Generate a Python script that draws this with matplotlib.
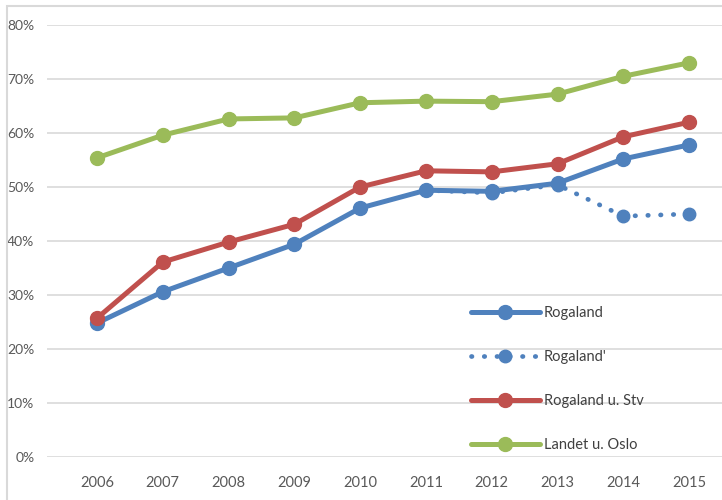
import matplotlib.pyplot as plt
from matplotlib.patches import Rectangle
from matplotlib.ticker import PercentFormatter
import numpy as np

plt.rcParams['font.family'] = ['Lato', 'DejaVu Sans']

years = ["2006", "2007", "2008", "2009", "2010", "2011", "2012", "2013", "2014", "2015"]
rogaland = [0.248, 0.306, 0.350, 0.394, 0.461, 0.494, 0.492, 0.507, 0.552, 0.578]
rogaland_alt = [None, None, None, None, None, 0.494, 0.489, 0.504, 0.446, 0.450]
rogaland_u_stv = [0.257, 0.361, 0.398, 0.431, 0.500, 0.530, 0.528, 0.543, 0.593, 0.620]
landet_u_oslo = [0.554, 0.596, 0.626, 0.628, 0.656, 0.659, 0.658, 0.672, 0.705, 0.730]

blue = "#4F81BD"
red = "#C0504D"
green = "#9BBB59"

fig = plt.figure(figsize=(7.22, 5.0), dpi=100)
ax = fig.add_axes([47 / 722, 43 / 500, 675 / 722, 432 / 500])

x = np.arange(len(years))
alt = np.array([np.nan if v is None else v for v in rogaland_alt])

ax.plot(x, rogaland, color=blue, lw=3.6, marker="o", ms=10, label="Rogaland",
        solid_capstyle="round")
ax.plot(x, alt, color=blue, lw=3.4, ls=(0, (0.1, 2.6)), dash_capstyle="round",
        marker="o", ms=9, label="Rogaland'")
ax.plot(x, rogaland_u_stv, color=red, lw=3.6, marker="o", ms=10,
        label="Rogaland u. Stv", solid_capstyle="round")
ax.plot(x, landet_u_oslo, color=green, lw=3.6, marker="o", ms=10,
        label="Landet u. Oslo", solid_capstyle="round")

ax.set_xlim(-0.76, 9.5)
ax.set_ylim(0, 0.8)
ax.set_yticks(np.arange(0, 0.81, 0.1))
ax.yaxis.set_major_formatter(PercentFormatter(1.0, decimals=0))
ax.set_xticks(x)
ax.set_xticklabels(years)
ax.grid(axis="y", color="#D9D9D9", lw=1.2)
ax.set_axisbelow(True)
for s in ax.spines.values():
    s.set_visible(False)
ax.tick_params(axis="both", length=0, labelsize=10.5, colors="#595959")
ax.tick_params(axis="x", pad=14)
ax.tick_params(axis="y", pad=9, labelsize=10)

ax.legend(loc="upper left", bbox_to_anchor=(458 / 722, 1 - 293 / 500),
          bbox_transform=fig.transFigure, frameon=False, fontsize=10.5,
          handlelength=4.7, labelspacing=2.05, handletextpad=0.3,
          labelcolor="#404040")

fig.patches.append(Rectangle((7 / 722, -0.1), 1.2, 1.1 - 6 / 500 + 0.0,
                             transform=fig.transFigure, fill=False,
                             ec="#D9D9D9", lw=1.5))

fig.savefig("out.png", dpi=100)
